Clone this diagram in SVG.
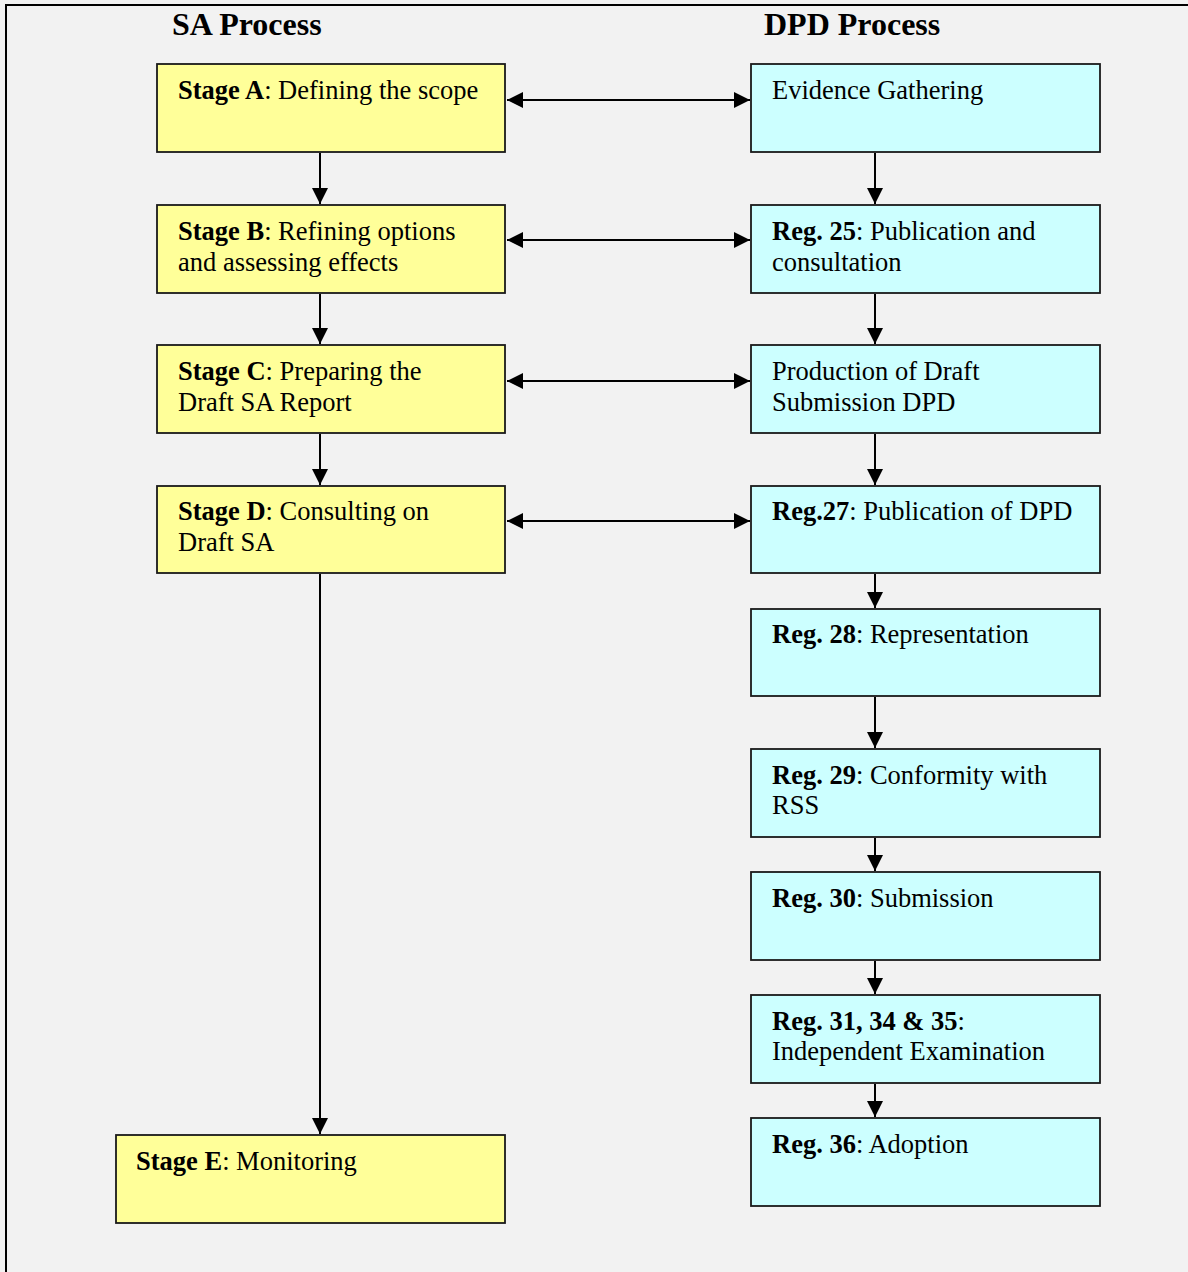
<svg xmlns="http://www.w3.org/2000/svg" width="1188" height="1272" viewBox="0 0 1188 1272">
<style>
  .bg { fill: #f2f2f2; }
  .frame { fill: none; stroke: #000; stroke-width: 2; }
  .sa { fill: #ffff99; stroke: #1a1a1a; stroke-width: 1.8; }
  .dpd { fill: #ccffff; stroke: #1a1a1a; stroke-width: 1.8; }
  .t { font-family: "Liberation Serif", "Times New Roman", serif; font-size: 26.5px; fill: #000; }
  .h { font-family: "Liberation Serif", "Times New Roman", serif; font-size: 32px; font-weight: bold; fill: #000; }
  .b { font-weight: bold; }
  .c { stroke: #000; stroke-width: 2; fill: none; }
</style>
<defs>
  <marker id="ah" markerUnits="userSpaceOnUse" markerWidth="16" markerHeight="16" refX="16" refY="8" orient="auto-start-reverse">
    <path d="M0,0 L16,8 L0,16 z" fill="#000"/>
  </marker>
</defs>
<rect class="bg" x="0" y="0" width="1188" height="1272"/>
<rect class="frame" x="6" y="5" width="1200" height="1300"/>
<text class="h" x="172" y="35">SA Process</text>
<text class="h" x="764" y="35">DPD Process</text>

<g id="connectors">
  <line class="c" x1="507" y1="100" x2="750" y2="100" marker-start="url(#ah)" marker-end="url(#ah)"/>
  <line class="c" x1="507" y1="240" x2="750" y2="240" marker-start="url(#ah)" marker-end="url(#ah)"/>
  <line class="c" x1="507" y1="381" x2="750" y2="381" marker-start="url(#ah)" marker-end="url(#ah)"/>
  <line class="c" x1="507" y1="521" x2="750" y2="521" marker-start="url(#ah)" marker-end="url(#ah)"/>
  <line class="c" x1="320" y1="153" x2="320" y2="204" marker-end="url(#ah)"/>
  <line class="c" x1="320" y1="294" x2="320" y2="344" marker-end="url(#ah)"/>
  <line class="c" x1="320" y1="434" x2="320" y2="485" marker-end="url(#ah)"/>
  <line class="c" x1="320" y1="574" x2="320" y2="1134" marker-end="url(#ah)"/>
  <line class="c" x1="875" y1="153" x2="875" y2="204" marker-end="url(#ah)"/>
  <line class="c" x1="875" y1="294" x2="875" y2="344" marker-end="url(#ah)"/>
  <line class="c" x1="875" y1="434" x2="875" y2="485" marker-end="url(#ah)"/>
  <line class="c" x1="875" y1="574" x2="875" y2="608" marker-end="url(#ah)"/>
  <line class="c" x1="875" y1="697" x2="875" y2="748" marker-end="url(#ah)"/>
  <line class="c" x1="875" y1="838" x2="875" y2="871" marker-end="url(#ah)"/>
  <line class="c" x1="875" y1="961" x2="875" y2="994" marker-end="url(#ah)"/>
  <line class="c" x1="875" y1="1084" x2="875" y2="1117" marker-end="url(#ah)"/>
</g>

<g id="stageA">
  <rect class="sa" x="157" y="64" width="348" height="88"/>
  <text class="t" x="178" y="99"><tspan class="b">Stage A</tspan>: Defining the scope</text>
</g>
<g id="stageB">
  <rect class="sa" x="157" y="205" width="348" height="88"/>
  <text class="t" x="178" y="240"><tspan class="b">Stage B</tspan>: Refining options</text>
  <text class="t" x="178" y="271">and assessing effects</text>
</g>
<g id="stageC">
  <rect class="sa" x="157" y="345" width="348" height="88"/>
  <text class="t" x="178" y="380"><tspan class="b">Stage C</tspan>: Preparing the</text>
  <text class="t" x="178" y="411">Draft SA Report</text>
</g>
<g id="stageD">
  <rect class="sa" x="157" y="486" width="348" height="87"/>
  <text class="t" x="178" y="520"><tspan class="b">Stage D</tspan>: Consulting on</text>
  <text class="t" x="178" y="551">Draft SA</text>
</g>
<g id="stageE">
  <rect class="sa" x="116" y="1135" width="389" height="88"/>
  <text class="t" x="136" y="1170"><tspan class="b">Stage E</tspan>: Monitoring</text>
</g>

<g id="evidence">
  <rect class="dpd" x="751" y="64" width="349" height="88"/>
  <text class="t" x="772" y="99">Evidence Gathering</text>
</g>
<g id="reg25">
  <rect class="dpd" x="751" y="205" width="349" height="88"/>
  <text class="t" x="772" y="240"><tspan class="b">Reg. 25</tspan>: Publication and</text>
  <text class="t" x="772" y="271">consultation</text>
</g>
<g id="production">
  <rect class="dpd" x="751" y="345" width="349" height="88"/>
  <text class="t" x="772" y="380">Production of Draft</text>
  <text class="t" x="772" y="411">Submission DPD</text>
</g>
<g id="reg27">
  <rect class="dpd" x="751" y="486" width="349" height="87"/>
  <text class="t" x="772" y="520"><tspan class="b">Reg.27</tspan>: Publication of DPD</text>
</g>
<g id="reg28">
  <rect class="dpd" x="751" y="609" width="349" height="87"/>
  <text class="t" x="772" y="643"><tspan class="b">Reg. 28</tspan>: Representation</text>
</g>
<g id="reg29">
  <rect class="dpd" x="751" y="749" width="349" height="88"/>
  <text class="t" x="772" y="784"><tspan class="b">Reg. 29</tspan>: Conformity with</text>
  <text class="t" x="772" y="814">RSS</text>
</g>
<g id="reg30">
  <rect class="dpd" x="751" y="872" width="349" height="88"/>
  <text class="t" x="772" y="907"><tspan class="b">Reg. 30</tspan>: Submission</text>
</g>
<g id="reg31">
  <rect class="dpd" x="751" y="995" width="349" height="88"/>
  <text class="t" x="772" y="1030"><tspan class="b">Reg. 31, 34 &amp; 35</tspan>:</text>
  <text class="t" x="772" y="1060">Independent Examination</text>
</g>
<g id="reg36">
  <rect class="dpd" x="751" y="1118" width="349" height="88"/>
  <text class="t" x="772" y="1153"><tspan class="b">Reg. 36</tspan>: Adoption</text>
</g>
</svg>
